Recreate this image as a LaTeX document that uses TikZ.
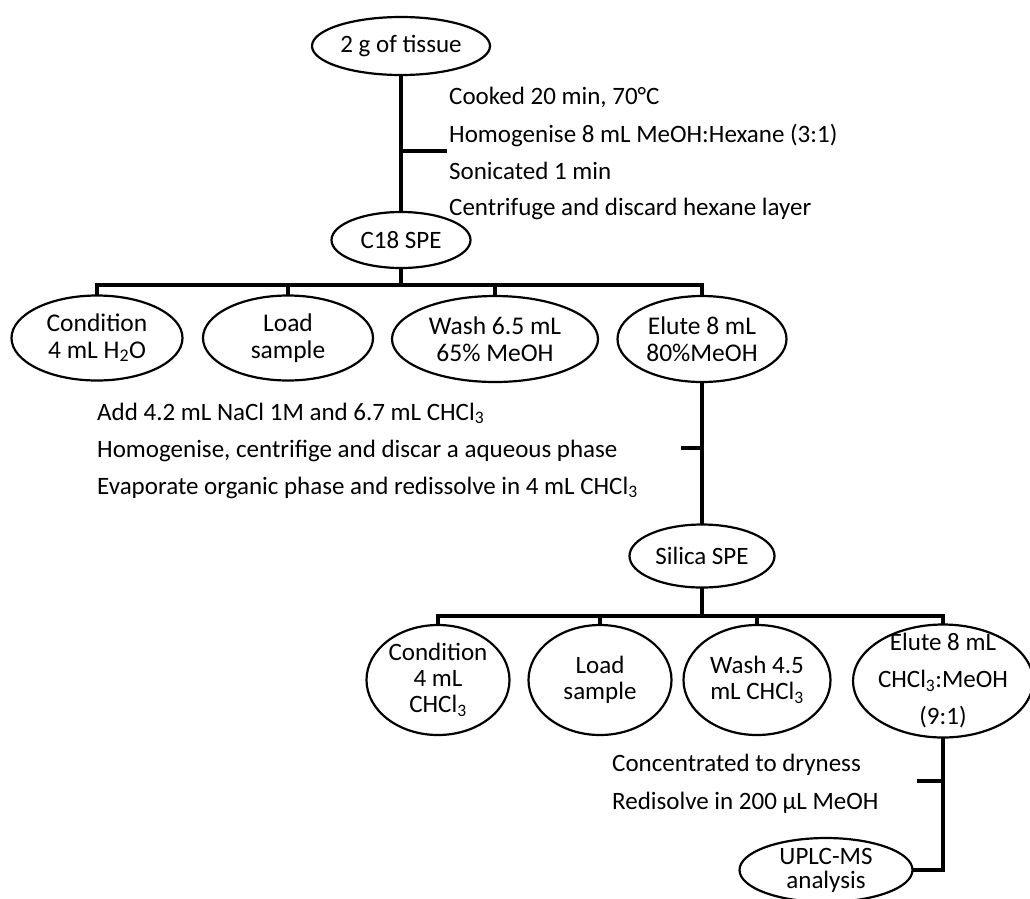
\documentclass[tikz,border=0pt]{standalone}
\usepackage{fontspec}
\setmainfont{Carlito}
\usetikzlibrary{shapes.geometric}
\begin{document}
\begin{tikzpicture}[x=1pt,y=-1pt,
  every node/.style={font=\fontsize{25}{27}\selectfont},
  oval/.style={ellipse, draw, line width=2.2pt, inner sep=0pt, outer sep=0pt},
  big/.style={font=\fontsize{25.5}{26.5}\selectfont},
  mid/.style={font=\fontsize{25}{26}\selectfont},
  conn/.style={line width=4.5pt, line join=miter},
  steptext/.style={anchor=base west, inner sep=0pt}]
\path[use as bounding box] (0,0) rectangle (1030,898);

% ellipses
\node[oval, minimum width=178pt, minimum height=58pt, label={[mid]center:2 g of tissue}] (tissue) at (401,46) {};
\node[oval, minimum width=139pt, minimum height=56pt, label={[mid]center:C18 SPE}] (c18) at (401,240) {};

\node[oval, minimum width=171pt, minimum height=85pt, label={[big,align=center]center:Condition\\4 mL H\textsubscript{2}O}] (cond1) at (97,338) {};
\node[oval, minimum width=170pt, minimum height=85pt, label={[big,align=center]center:Load\\sample}] (load1) at (288,338) {};
\node[oval, minimum width=206pt, minimum height=86pt, label={[big,align=center]center:Wash 6.5 mL\\65\% MeOH}] (wash1) at (495,339) {};
\node[oval, minimum width=169pt, minimum height=86pt, label={[big,align=center]center:Elute 8 mL\\80\%MeOH}] (elute1) at (702,339) {};

\node[oval, minimum width=145pt, minimum height=63pt, label={[mid]center:Silica SPE}] (silica) at (702,556) {};

\node[oval, minimum width=143pt, minimum height=110pt, label={[mid,align=center]center:Condition\\4 mL\\CHCl\textsubscript{3}}] (cond2) at (438,680) {};
\node[oval, minimum width=143pt, minimum height=110pt, label={[mid,align=center]center:Load\\sample}] (load2) at (600,680) {};
\node[oval, minimum width=147pt, minimum height=110pt, label={[mid,align=center]center:Wash 4.5\\mL CHCl\textsubscript{3}}] (wash2) at (757,680) {};
\node[oval, minimum width=180pt, minimum height=113pt, label={[align=center, font=\fontsize{25}{37}\selectfont]center:Elute 8 mL\\CHCl\textsubscript{3}:MeOH\\(9:1)}] (elute2) at (943,681) {};

\node[oval, minimum width=173pt, minimum height=64pt, label={[align=center, font=\fontsize{25}{24}\selectfont]center:UPLC-MS\\analysis}] (uplc) at (826,870) {};

% step texts
\node[steptext] (s1) at (449,104) {Cooked 20 min, 70°C};
\node[steptext] (s2) at (449,142) {Homogenise 8 mL MeOH:Hexane (3:1)};
\node[steptext] (s3) at (449,179) {Sonicated 1 min};
\node[steptext] (s4) at (449,215) {Centrifuge and discard hexane layer};

\node[steptext] (s5) at (97,420) {Add 4.2 mL NaCl 1M and 6.7 mL CHCl\textsubscript{3}};
\node[steptext] (s6) at (97,457) {Homogenise, centrifige and discar a aqueous phase};
\node[steptext] (s7) at (97,494) {Evaporate organic phase and redissolve in 4 mL CHCl\textsubscript{3}};

\node[steptext] (s8) at (612,771) {Concentrated to dryness};
\node[steptext] (s9) at (612,809) {Redisolve in 200 µL MeOH};

% connectors
\draw[conn] (tissue.south) -- (c18.north);
\coordinate (t1) at (401,151);
\coordinate (t1e) at (447,151);
\draw[conn] (t1) -- (t1e);

\coordinate (bar1) at (401,285);
\draw[conn] (c18.south) -- (bar1);
\draw[conn] (cond1.north) |- (bar1) -| (elute1.north);
\draw[conn] (load1.north) -- (load1.north |- bar1);
\draw[conn] (wash1.north) -- (wash1.north |- bar1);

\draw[conn] (elute1.south) -- (silica.north);
\coordinate (t2) at (702,448);
\coordinate (t2e) at (681,448);
\draw[conn] (t2) -- (t2e);

\coordinate (bar2) at (702,616);
\draw[conn] (silica.south) -- (bar2);
\draw[conn] (cond2.north) |- (bar2) -| (elute2.north);
\draw[conn] (load2.north) -- (load2.north |- bar2);
\draw[conn] (wash2.north) -- (wash2.north |- bar2);

\draw[conn] (elute2.south) |- (uplc.east);
\coordinate (t3) at (943,781);
\coordinate (t3e) at (917,781);
\draw[conn] (t3) -- (t3e);
\end{tikzpicture}
\end{document}
